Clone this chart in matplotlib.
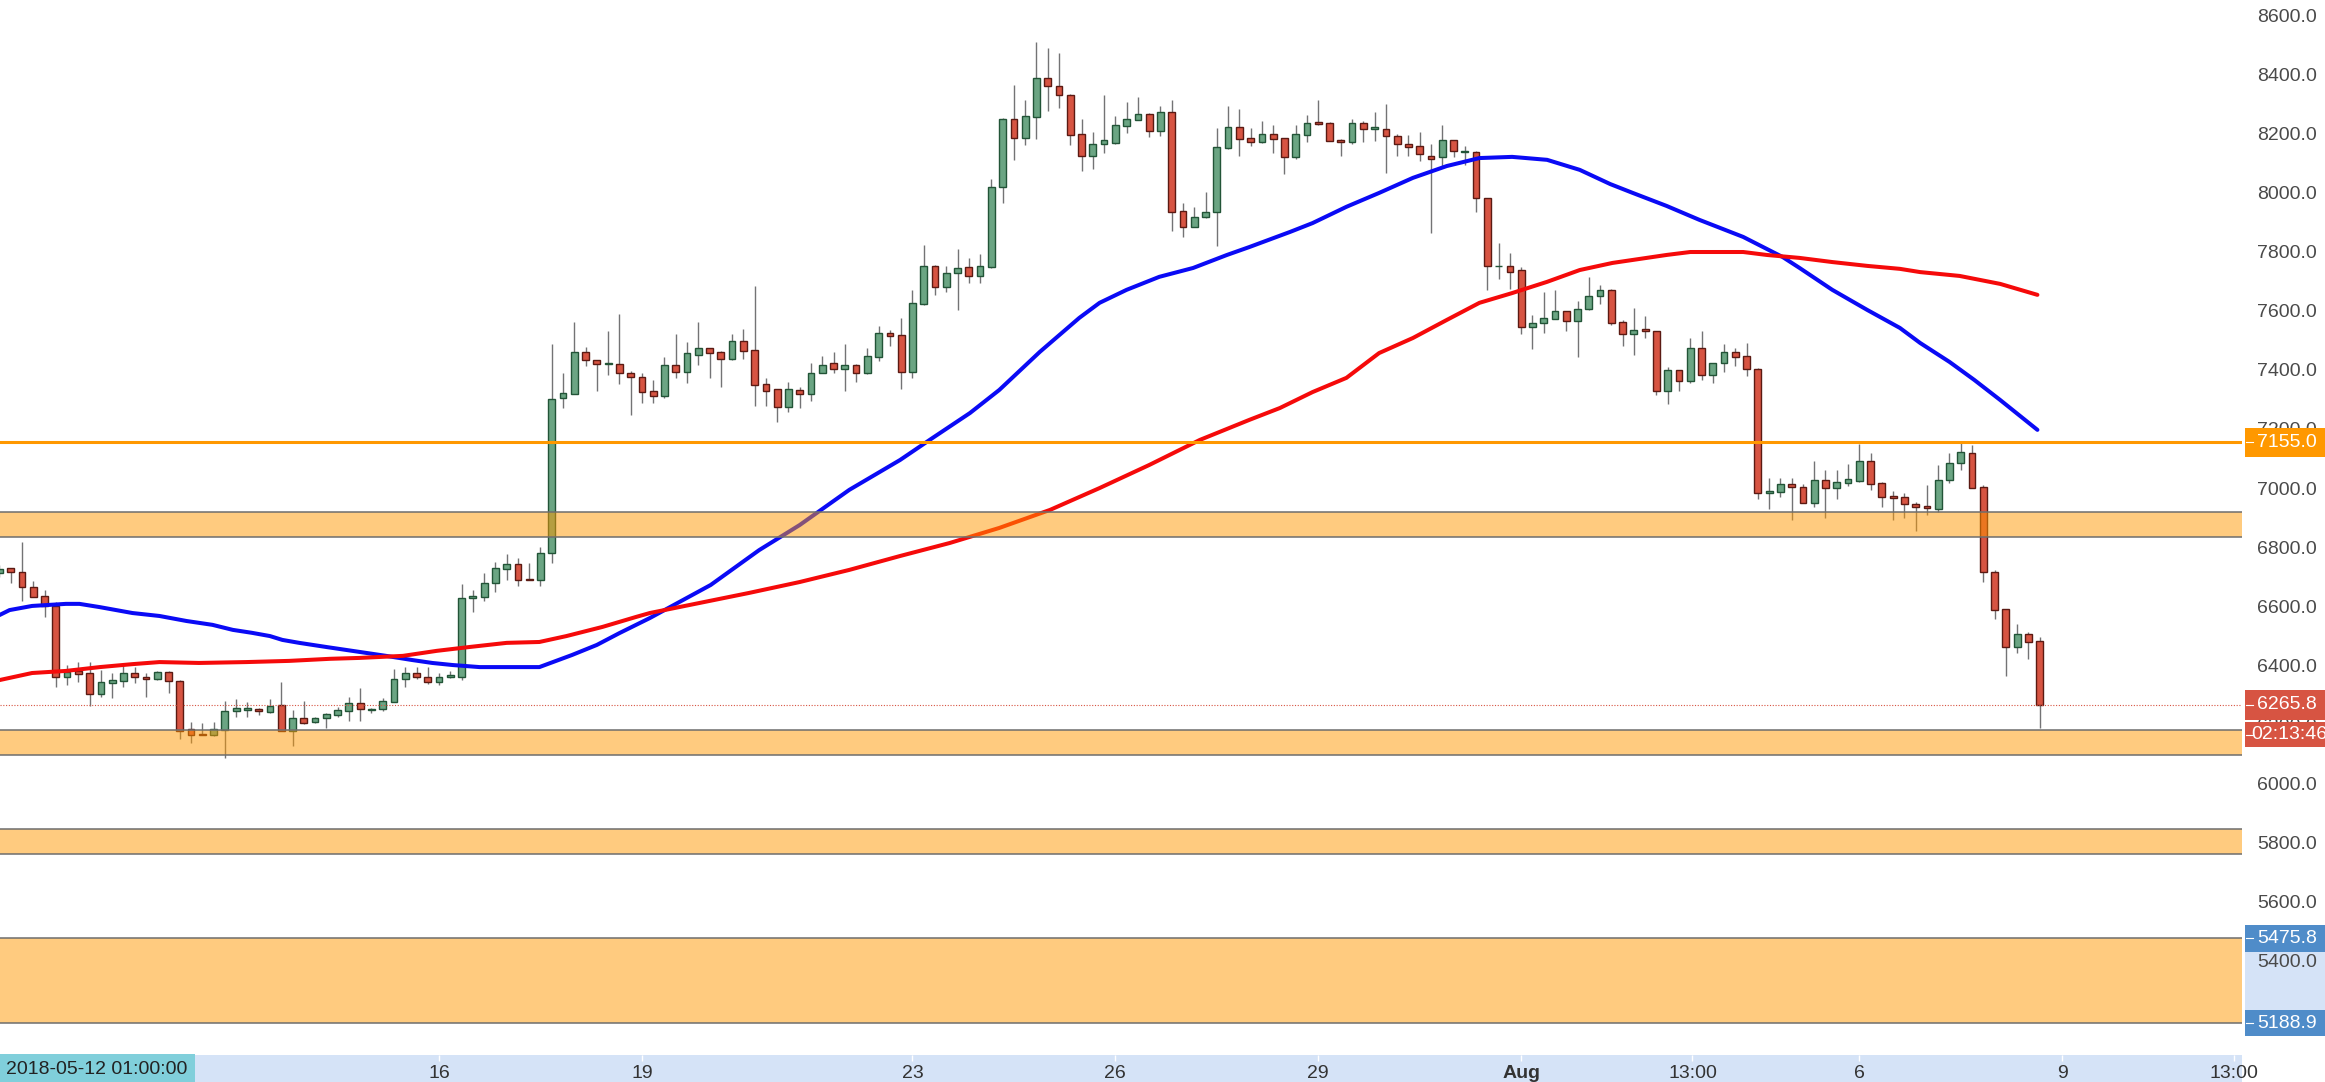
import numpy as np
import matplotlib.pyplot as plt
from matplotlib.patches import Rectangle
import matplotlib.transforms as mtransforms

plt.rcParams['font.family'] = ['Liberation Sans', 'DejaVu Sans']

# 4h candles (index 0 = left edge)
opens = [6712, 6729, 6717, 6666, 6635, 6601, 6359, 6381, 6374, 6302,
         6340, 6346, 6373, 6362, 6353, 6379, 6347, 6183, 6165, 6163,
         6181, 6245, 6249, 6253, 6243, 6266, 6179, 6221, 6207, 6221,
         6232, 6245, 6274, 6249, 6251, 6277, 6353, 6373, 6362, 6345,
         6359, 6359, 6627, 6630, 6678, 6727, 6742, 6692, 6689, 6779,
         7306, 7319, 7460, 7434, 7420, 7420, 7391, 7377, 7329, 7312,
         7417, 7394, 7450, 7473, 7462, 7437, 7499, 7467, 7352, 7334,
         7273, 7332, 7318, 7388, 7422, 7402, 7417, 7388, 7445, 7524,
         7518, 7394, 7624, 7753, 7682, 7727, 7747, 7719, 7749, 8018,
         8248, 8184, 8257, 8387, 8361, 8331, 8198, 8124, 8164, 8169,
         8227, 8246, 8266, 8209, 8274, 7938, 7883, 7916, 7934, 8150,
         8223, 8186, 8170, 8198, 8184, 8120, 8195, 8238, 8235, 8178,
         8170, 8237, 8214, 8216, 8190, 8165, 8158, 8125, 8120, 8178,
         8139, 8139, 7981, 7750, 7752, 7738, 7546, 7560, 7572, 7599,
         7567, 7605, 7650, 7671, 7561, 7522, 7537, 7530, 7330, 7398,
         7363, 7473, 7383, 7422, 7460, 7447, 7404, 6982, 6988, 7014,
         7003, 6949, 7027, 6999, 7018, 7024, 7092, 7016, 6973, 6971,
         6945, 6939, 6929, 7026, 7084, 7118, 7003, 6717, 6590, 6461,
         6506, 6484]
highs = [6740, 6731, 6819, 6687, 6655, 6616, 6401, 6412, 6412, 6384,
         6373, 6407, 6396, 6373, 6381, 6381, 6349, 6209, 6204, 6209,
         6279, 6285, 6275, 6255, 6285, 6342, 6249, 6279, 6225, 6240,
         6260, 6292, 6323, 6255, 6290, 6386, 6393, 6393, 6393, 6373,
         6382, 6674, 6655, 6711, 6751, 6777, 6762, 6745, 6802, 7487,
         7391, 7563, 7479, 7435, 7532, 7588, 7397, 7389, 7366, 7442,
         7520, 7493, 7563, 7473, 7465, 7520, 7538, 7685, 7374, 7336,
         7360, 7341, 7422, 7447, 7460, 7488, 7420, 7473, 7550, 7535,
         7577, 7671, 7823, 7755, 7753, 7809, 7780, 7791, 8045, 8254,
         8365, 8314, 8509, 8491, 8472, 8335, 8249, 8204, 8331, 8261,
         8306, 8325, 8268, 8293, 8314, 7964, 7950, 8001, 8218, 8293,
         8282, 8218, 8244, 8229, 8186, 8229, 8263, 8312, 8240, 8180,
         8248, 8243, 8274, 8300, 8198, 8195, 8204, 8165, 8229, 8179,
         8158, 8141, 7983, 7831, 7797, 7747, 7586, 7665, 7671, 7601,
         7634, 7713, 7688, 7673, 7569, 7609, 7583, 7532, 7411, 7400,
         7507, 7530, 7424, 7488, 7473, 7492, 7406, 7035, 7035, 7035,
         7013, 7092, 7061, 7061, 7080, 7148, 7118, 7020, 6990, 6982,
         6954, 7010, 7078, 7120, 7152, 7146, 7010, 6723, 6590, 6540,
         6514, 6495]
lows = [6700, 6677, 6619, 6630, 6563, 6326, 6333, 6345, 6262, 6294,
        6288, 6326, 6339, 6294, 6351, 6307, 6149, 6136, 6163, 6162,
        6085, 6224, 6224, 6232, 6237, 6178, 6128, 6200, 6205, 6187,
        6224, 6213, 6213, 6237, 6247, 6275, 6328, 6353, 6337, 6334,
        6356, 6350, 6582, 6619, 6649, 6689, 6669, 6688, 6669, 6745,
        7272, 7318, 7413, 7330, 7383, 7351, 7247, 7287, 7287, 7304,
        7372, 7355, 7417, 7374, 7343, 7435, 7437, 7279, 7279, 7222,
        7259, 7272, 7293, 7388, 7388, 7330, 7360, 7387, 7431, 7482,
        7335, 7372, 7620, 7654, 7665, 7603, 7693, 7693, 7746, 7966,
        8111, 8161, 8182, 8277, 8288, 8161, 8073, 8080, 8135, 8165,
        8201, 8245, 8187, 8193, 7870, 7851, 7882, 7914, 7820, 8148,
        8125, 8158, 8168, 8135, 8062, 8115, 8173, 8230, 8175, 8124,
        8165, 8173, 8176, 8068, 8124, 8124, 8107, 7865, 8082, 8122,
        8094, 7936, 7671, 7707, 7673, 7522, 7470, 7526, 7571, 7530,
        7445, 7604, 7622, 7552, 7482, 7451, 7507, 7315, 7285, 7330,
        7357, 7366, 7355, 7394, 7413, 7380, 6962, 6928, 6969, 6892,
        6950, 6935, 6898, 6962, 7007, 7020, 6994, 6935, 6892, 6898,
        6853, 6909, 6920, 7018, 7061, 7001, 6683, 6556, 6364, 6441,
        6420, 6187]
closes = [6727, 6716, 6664, 6632, 6601, 6359, 6379, 6372, 6302, 6342,
          6350, 6373, 6359, 6353, 6379, 6347, 6179, 6164, 6164, 6183,
          6247, 6254, 6256, 6244, 6263, 6179, 6221, 6206, 6221, 6234,
          6249, 6274, 6251, 6253, 6280, 6354, 6373, 6359, 6345, 6362,
          6366, 6629, 6636, 6680, 6728, 6743, 6689, 6689, 6779, 7300,
          7321, 7460, 7434, 7419, 7424, 7389, 7375, 7324, 7312, 7417,
          7394, 7456, 7473, 7458, 7437, 7499, 7465, 7349, 7330, 7273,
          7334, 7318, 7391, 7417, 7402, 7417, 7388, 7448, 7524, 7516,
          7394, 7626, 7753, 7682, 7727, 7746, 7719, 7753, 8020, 8248,
          8184, 8261, 8387, 8361, 8329, 8195, 8124, 8165, 8178, 8229,
          8248, 8266, 8209, 8274, 7934, 7883, 7917, 7936, 8154, 8223,
          8182, 8170, 8198, 8182, 8120, 8199, 8235, 8232, 8176, 8172,
          8237, 8214, 8221, 8190, 8164, 8156, 8131, 8113, 8178, 8141,
          8142, 7981, 7752, 7753, 7733, 7546, 7560, 7575, 7599, 7567,
          7605, 7650, 7671, 7558, 7522, 7535, 7533, 7330, 7398, 7363,
          7473, 7383, 7422, 7460, 7445, 7402, 6982, 6990, 7014, 7003,
          6951, 7027, 6999, 7022, 7030, 7092, 7013, 6969, 6968, 6945,
          6937, 6932, 7027, 7086, 7123, 7001, 6715, 6587, 6461, 6506,
          6480, 6265.8]

# moving averages (blue = fast, red = slow), sampled along the candle index
ma_fast_idx = [0, 0.9, 2.9, 5.9, 7.1, 8.9, 11.8, 14.2, 16.6, 18.9, 20.7, 22.4,
               24.0, 25.1, 26.6, 29.0, 31.3, 34.3, 36.6, 38.4, 40.2, 42.6, 47.9,
               50.8, 53.0, 55.0, 57.7, 63.1, 67.4, 71.0, 75.4, 79.9, 82.8, 86.1,
               88.7, 92.3, 95.8, 97.6, 100.0, 102.9, 105.9, 108.9, 110.9, 114.5,
               116.5, 119.5, 122.4, 125.4, 128.4, 131.3, 134.2, 137.3, 140.2,
               142.9, 144.9, 147.9, 150.8, 154.7, 158.2, 159.7, 162.6, 165.7,
               168.6, 170.4, 173.0, 175.2, 177.5, 180.8]
ma_fast = [6570, 6587, 6601, 6608, 6608, 6597, 6577, 6567, 6550, 6537, 6520, 6510,
           6499, 6486, 6476, 6462, 6449, 6432, 6418, 6408, 6401, 6394, 6394,
           6435, 6469, 6509, 6560, 6672, 6790, 6875, 6994, 7095, 7170, 7254,
           7332, 7461, 7576, 7627, 7671, 7715, 7745, 7789, 7816, 7867,
           7897, 7952, 7999, 8050, 8090, 8117, 8121, 8111, 8077,
           8029, 7999, 7955, 7908, 7850, 7782, 7745, 7671, 7603,
           7542, 7491, 7427, 7366, 7298, 7197]
ma_slow_idx = [0, 2.9, 5.9, 8.9, 11.8, 14.2, 17.7, 21.9, 25.7, 29.3, 31.9, 35.8,
               38.8, 41.7, 45.0, 47.9, 50.3, 53.5, 56.5, 57.7, 62.1, 66.5, 71.0,
               75.4, 79.9, 84.3, 88.7, 93.2, 97.6, 102.0, 106.5, 110.9, 113.6,
               116.5, 119.5, 122.4, 125.4, 128.4, 131.3, 134.2, 137.3, 140.2,
               143.1, 147.9, 150.0, 154.7, 156.8, 159.7, 162.6, 165.7, 168.6,
               170.4, 173.9, 177.5, 180.8]
ma_slow = [6350, 6374, 6381, 6394, 6404, 6411, 6408, 6411, 6415, 6422, 6425, 6432,
           6449, 6462, 6476, 6479, 6499, 6530, 6564, 6577, 6611, 6645, 6682,
           6723, 6770, 6814, 6865, 6926, 7000, 7078, 7163, 7231, 7271,
           7325, 7373, 7457, 7508, 7569, 7627, 7660, 7698, 7738,
           7762, 7789, 7799, 7799, 7789, 7779, 7765, 7752, 7742,
           7731, 7718, 7691, 7654]

zones = [(6835, 6919), (6098, 6182), (5761, 5845), (5188.9, 5475.8)]
level = 7155.0
last_price = 6265.8
countdown = '02:13:46'
crosshair_time = '2018-05-12 01:00:00'

price_ticks = np.arange(5400, 8601, 200)
date_pos = [39, 57, 81, 99, 117, 135, 150.2, 165, 183, 198.2]
date_lbl = ['16', '19', '23', '26', '29', 'Aug', '13:00', '6', '9', '13:00']

W, H = 2325, 1082
plot_w, axis_h = 2242, 27

fig = plt.figure(figsize=(W / 100, H / 100), dpi=100)
ax = fig.add_axes([0, axis_h / H, plot_w / W, 1 - axis_h / H])
ax.set_xlim(0.05, 198.95)
ax.set_ylim(5081, 8652)
for s in ax.spines.values():
    s.set_visible(False)

o = np.array(opens, float)
h = np.array(highs, float)
l = np.array(lows, float)
c = np.array(closes, float)
x = np.arange(len(o))
up = c >= o
bottom = np.minimum(o, c)
height = np.maximum(np.abs(c - o), 3)

ax.vlines(x, l, h, color='#737375', lw=1.0, zorder=2)
ax.bar(x[up], height[up], bottom=bottom[up], width=0.6, color='#6BA583',
       edgecolor='#225437', linewidth=1.0, zorder=3)
ax.bar(x[~up], height[~up], bottom=bottom[~up], width=0.6, color='#D75442',
       edgecolor='#5B1A13', linewidth=1.0, zorder=3)

ax.plot(ma_fast_idx, ma_fast, color='#0A0AF5', lw=2.9, zorder=4,
        solid_capstyle='round')
ax.plot(ma_slow_idx, ma_slow, color='#F50A0A', lw=2.9, zorder=4,
        solid_capstyle='round')

for lo, hi in zones:
    ax.axhspan(lo, hi, facecolor='#FF9900', alpha=0.5, lw=0, zorder=5)
    ax.axhline(lo, color='#6E6E6E', lw=1.1, zorder=5)
    ax.axhline(hi, color='#6E6E6E', lw=1.1, zorder=5)

ax.axhline(level, color='#FF9800', lw=2.2, zorder=6)
ax.axhline(last_price, color='#D75442', lw=0.8, ls=(0, (1, 1.5)), zorder=6)

# right price scale
ax.yaxis.tick_right()
ax.set_yticks(price_ticks)
ax.set_yticklabels(['%.1f' % v for v in price_ticks])
ax.tick_params(axis='y', length=0, pad=10.8, labelsize=14, labelcolor='#4A4A4A')

# bottom time scale
ax.set_xticks(date_pos)
ax.set_xticklabels(date_lbl)
ax.tick_params(axis='x', direction='out', length=4, width=1, color='white',
               pad=3.5, labelsize=14, labelcolor='#333333')
ax.get_xticklabels()[5].set_fontweight('bold')

fig.add_artist(Rectangle((0, 0), plot_w / W, axis_h / H, transform=fig.transFigure,
                         facecolor='#D5E3F7', edgecolor='none', zorder=-1))
fig.add_artist(Rectangle((0, 0), 195 / W, (axis_h + 1) / H, transform=fig.transFigure,
                         facecolor='#80CFDB', edgecolor='none', zorder=1))
fig.text(97 / W, 13 / H, crosshair_time, ha='center', va='center', fontsize=14,
         color='#222222', zorder=2)

# price tags on the right scale
tr = mtransforms.blended_transform_factory(ax.transAxes, ax.transData)
x0, x1 = 1.0012, W / plot_w
ax.add_patch(Rectangle((x0, zones[3][0]), x1 - x0, zones[3][1] - zones[3][0],
                       transform=tr, facecolor='#D5E3F7', edgecolor='none',
                       clip_on=False, zorder=0.5))


def tag(y, text, color, half=49, tx=1.0067):
    ax.add_patch(Rectangle((x0, y - half), x1 - x0, 2 * half, transform=tr,
                           facecolor=color, edgecolor='none', clip_on=False, zorder=8))
    ax.plot([x0 + 0.0008, x0 + 0.0035], [y, y], color='white', lw=0.8,
            transform=tr, clip_on=False, zorder=9)
    ax.text(tx, y, text, transform=tr, ha='left', va='center', fontsize=14,
            color='white', clip_on=False, zorder=9)


tag(level, '%.1f' % level, '#FF9800')
tag(last_price, '%.1f' % last_price, '#D75442', half=50)
tag(last_price - 100, countdown, '#D75442', half=42, tx=1.0040)
tag(zones[3][1], '%.1f' % zones[3][1], '#4F8CC9', half=45)
tag(zones[3][0], '%.1f' % zones[3][0], '#4F8CC9', half=45)

fig.savefig('out.png', dpi=100, facecolor='white')
